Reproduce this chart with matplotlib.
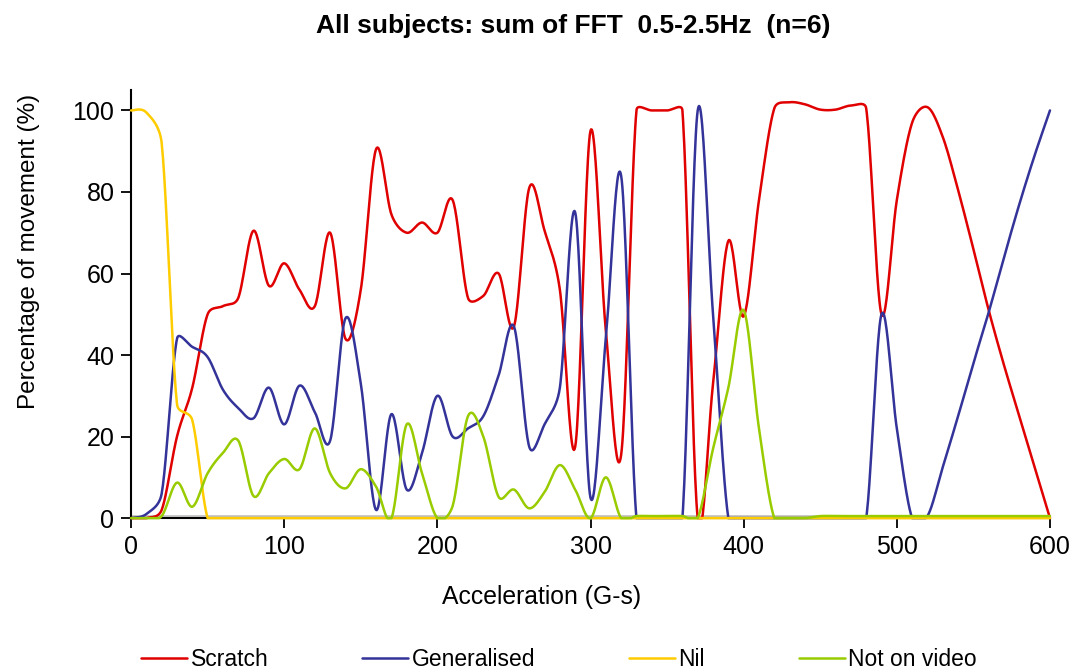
import numpy as np
import matplotlib.pyplot as plt

plt.rcParams['font.family'] = ['Liberation Sans', 'DejaVu Sans']

# acceleration bins (G-s) and % of movement in each class
accel = list(range(0, 601, 10))

scratch = [0, 0, 2, 20, 32, 50, 52, 54, 70.5, 57,
           62.5, 56, 52, 70, 44, 56, 90.5, 74.5, 70, 72.5,
           70, 78, 54, 54.5, 60, 47, 81, 70.5, 56, 17.5,
           95, 46, 15.5, 100, 100, 100, 100, 0, 33, 68,
           49.5, 78, 100.5, 102, 101.5, 100.2, 100.2, 101.2, 100.5, 50,
           78, 97, 100.8, 93.5, 80.5, 66, 51, 37.5, 25, 12.5,
           0]

generalised = [0, 1, 6, 44, 42, 39.5, 31.5, 27, 24.5, 32,
               23, 32.5, 26, 19, 49, 33, 2, 25.5, 7, 16,
               30, 20, 22, 25, 35, 47, 17.5, 23, 32, 75,
               5, 44, 84, 0, 0, 0, 0, 100, 50, 0,
               0, 0, 0, 0, 0, 0, 0, 0, 0, 50,
               22, 0, 0.5, 12.5, 25, 38, 50.5, 64, 77, 89,
               100]

nil = [100, 99.5, 92, 28, 24, 0] + [0] * 55

not_on_video = [0, 0, 0.5, 8.7, 2.8, 11, 16, 19, 5.4, 11,
                14.5, 12, 22, 11, 7.3, 12, 7.7, 0, 23, 11,
                0, 3, 25, 20, 5.2, 7, 2.4, 6.4, 13, 7,
                0, 10, 0, 0.5, 0.5, 0.5, 0.5, 0, 17, 32,
                51, 22, 0, 0, 0, 0.5, 0.5, 0.5, 0.5, 0.5,
                0.5, 0.5, 0.5, 0.5, 0.5, 0.5, 0.5, 0.5, 0.5, 0.5,
                0.5]

baseline = [0.5] * 61

series = [('Scratch', scratch, '#E00000'),
          ('Generalised', generalised, '#333399'),
          ('Nil', nil, '#FFCC00'),
          ('Not on video', not_on_video, '#99CC00')]


def smooth(ax, x, y, steps=24):
    # spreadsheet-style smoothed line: bezier through the points, with the
    # control arms capped at half the segment length (in screen space)
    pts = ax.transData.transform(np.column_stack([x, y]))
    n = len(pts)
    out = [pts[0]]
    t = np.linspace(0, 1, steps + 1)[1:, None]
    for i in range(n - 1):
        p0 = pts[max(i - 1, 0)]
        p1 = pts[i]
        p2 = pts[i + 1]
        p3 = pts[min(i + 2, n - 1)]
        d02 = np.hypot(*(p2 - p0))
        d12 = np.hypot(*(p2 - p1))
        d13 = np.hypot(*(p3 - p1))
        f1 = f2 = 1 / 6
        if d02 / 6 >= d12 / 2:
            f1 = d12 / d02 / 2
        if d13 / 6 >= d12 / 2:
            f2 = d12 / d13 / 2
        c1 = p1 + (p2 - p0) * f1
        c2 = p2 - (p3 - p1) * f2
        seg = ((1 - t) ** 3 * p1 + 3 * (1 - t) ** 2 * t * c1
               + 3 * (1 - t) * t ** 2 * c2 + t ** 3 * p2)
        out.extend(seg)
    xy = ax.transData.inverted().transform(np.array(out))
    return xy[:, 0], np.maximum(xy[:, 1], 0)


fig = plt.figure(figsize=(10.83, 6.72), dpi=100)
ax = fig.add_axes([0.121, 0.229, 0.8485, 0.637])
ax.set_xlim(0, 600)
ax.set_ylim(0, 105)

bx, by = smooth(ax, accel, baseline)
ax.plot(bx, by, color='#C8C8C8', lw=1.5, clip_on=False, zorder=1.5)

handles = []
for name, vals, col in series:
    sx, sy = smooth(ax, accel, vals)
    h, = ax.plot(sx, sy, color=col, lw=1.8, clip_on=False, label=name,
                 solid_capstyle='round', zorder=3)
    handles.append(h)

ax.set_xticks(range(0, 601, 100))
ax.set_yticks(range(0, 101, 20))
for s in ['top', 'right']:
    ax.spines[s].set_visible(False)
for s in ['left', 'bottom']:
    ax.spines[s].set_linewidth(1.5)
    ax.spines[s].set_zorder(2)
ax.tick_params(direction='out', length=7, width=1.3, labelsize=18, pad=5)

fig.text(0.529, 0.962, 'All subjects: sum of FFT  0.5-2.5Hz  (n=6)',
         ha='center', va='center', fontsize=19, fontweight='bold')
fig.text(0.5, 0.112, 'Acceleration (G-s)', ha='center', va='center', fontsize=17.8)
fig.text(0.027, 0.626, 'Percentage of movement (%)', ha='center', va='center',
         rotation=90, fontsize=17.5)

fig.legend(handles, [s[0] for s in series], loc='center left',
           bbox_to_anchor=(0.122, 0.019), ncol=4, frameon=False, fontsize=16.5,
           handlelength=2.0, handletextpad=0.15, columnspacing=4.1,
           borderaxespad=0)

fig.savefig('out.png', dpi=100)
